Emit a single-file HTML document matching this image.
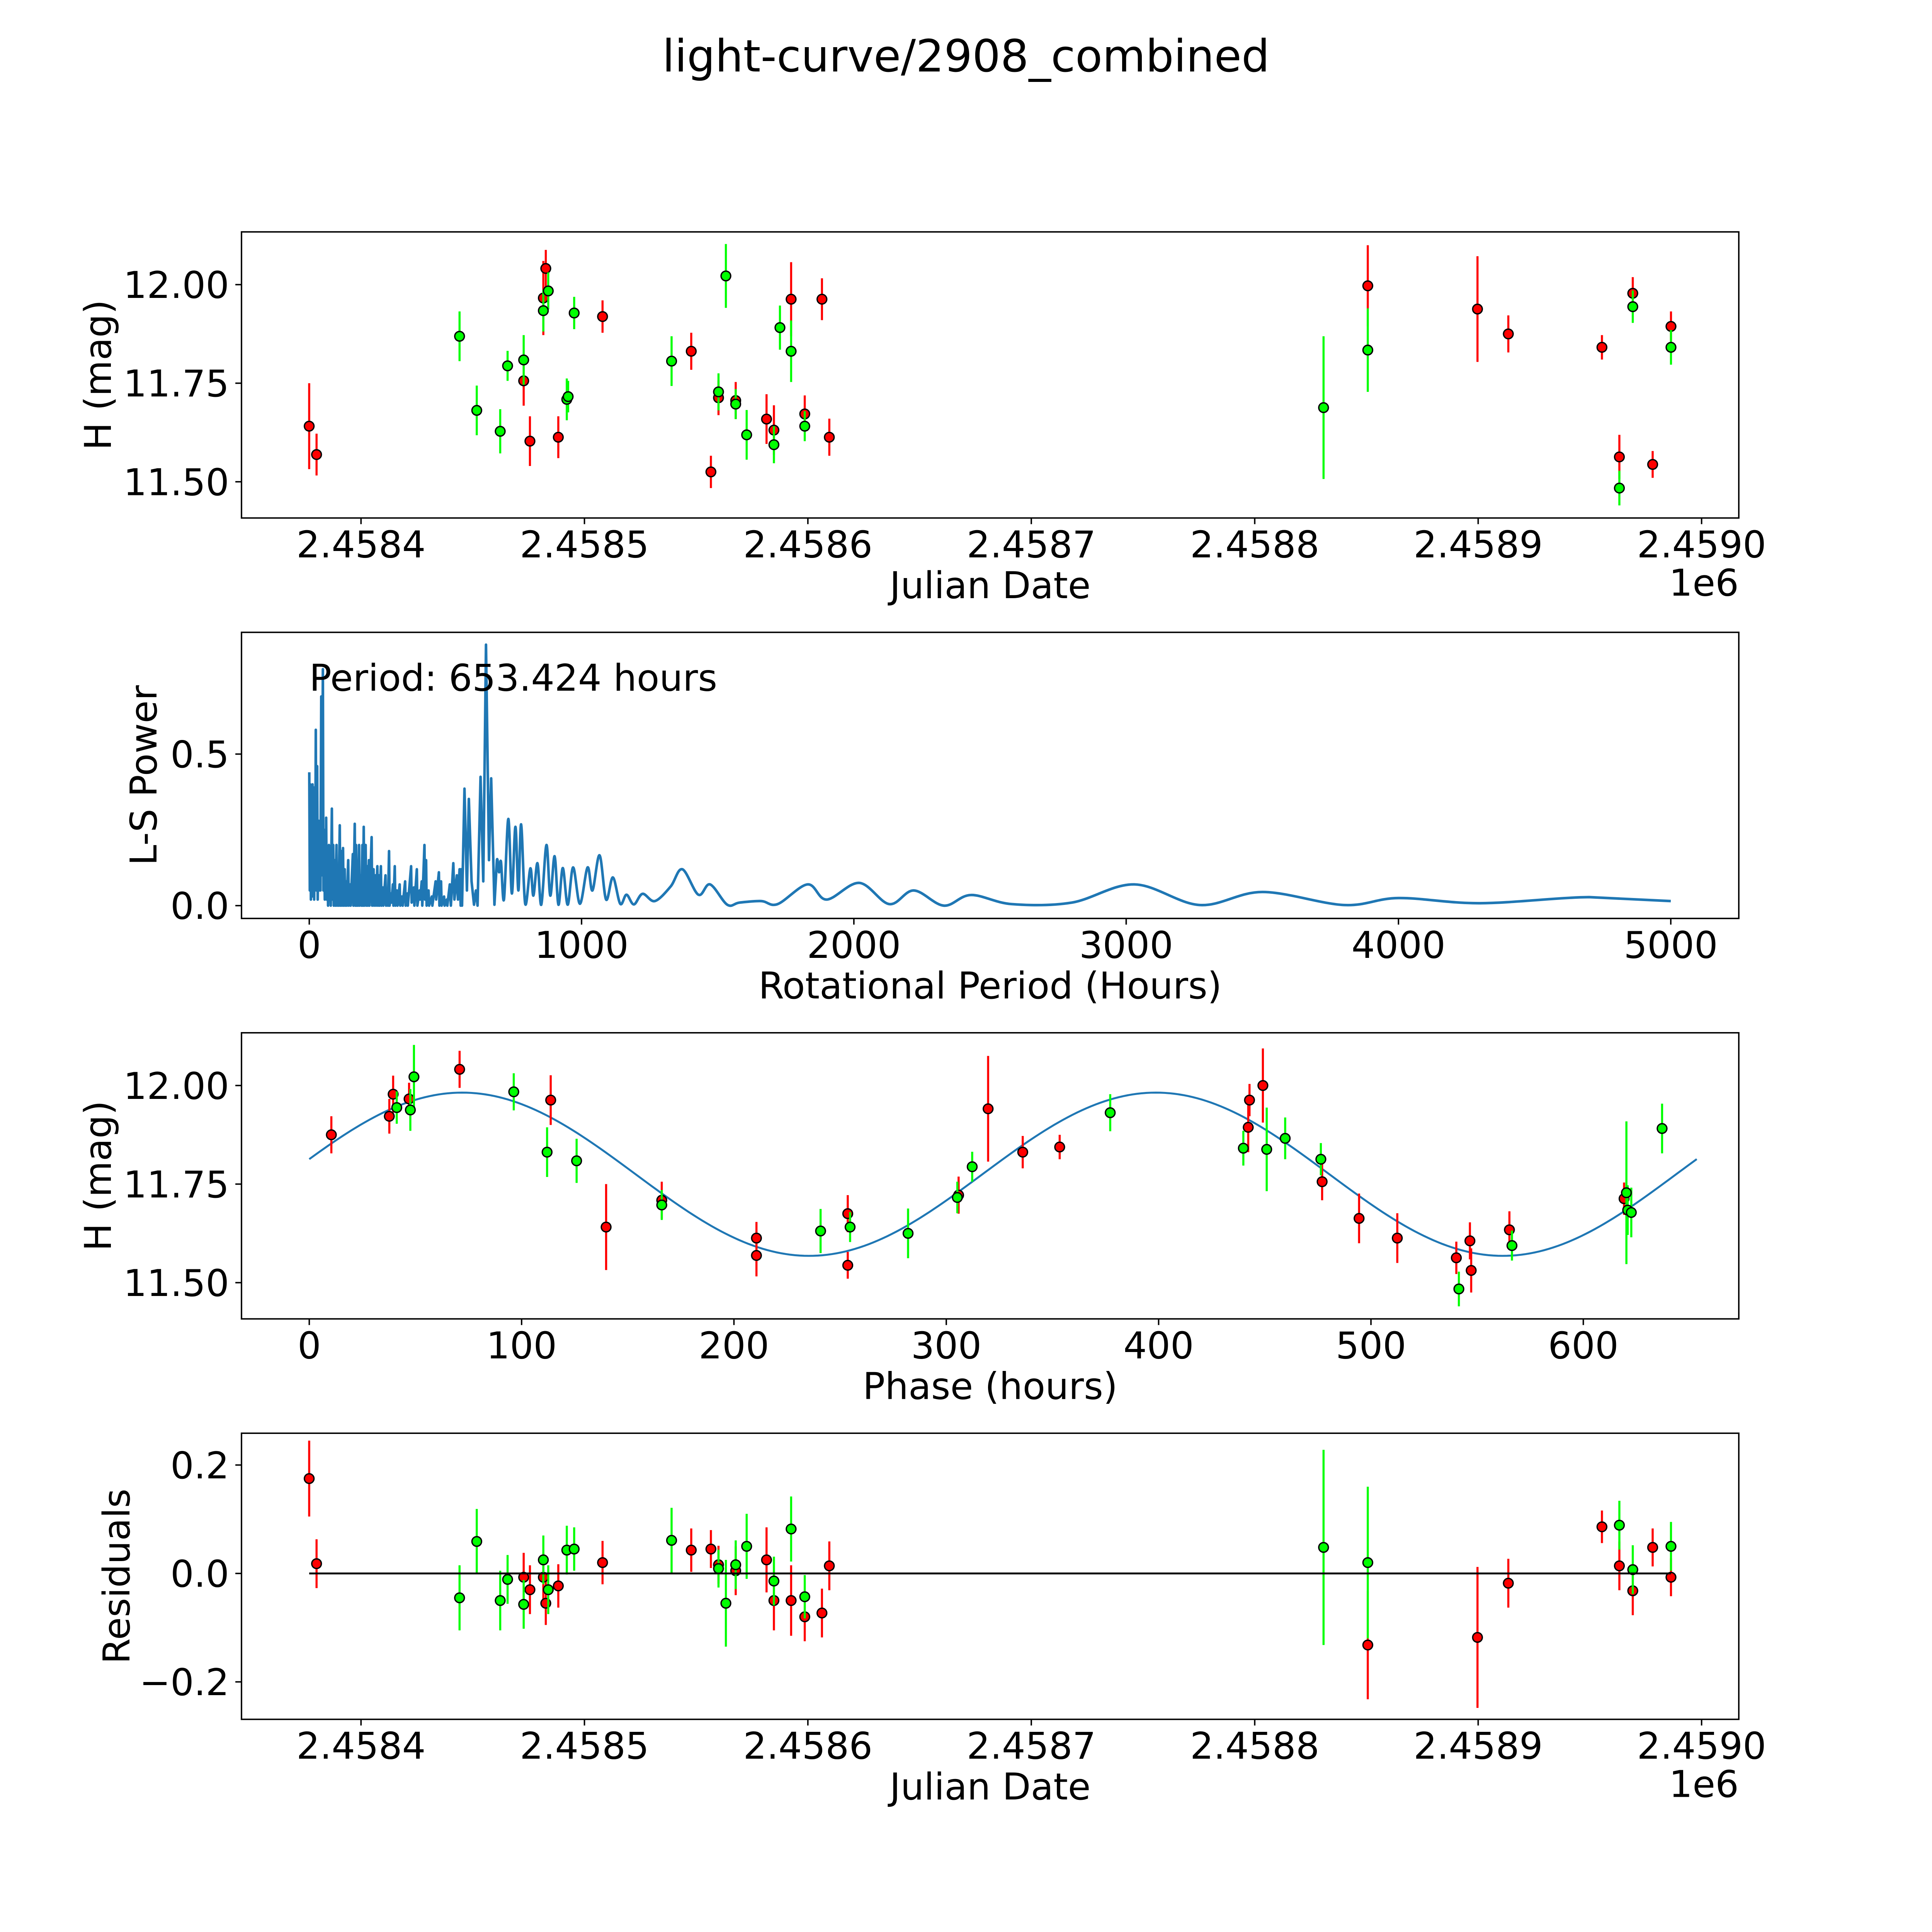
<!DOCTYPE html>
<html><head><meta charset="utf-8"><style>
html,body{margin:0;padding:0;background:#fff;overflow:hidden;width:100vw;height:100vh;}
svg{display:block;width:100vw;height:100vh;font-family:"DejaVu Sans","Liberation Sans",sans-serif;}
</style></head><body>
<svg id="fig" xmlns="http://www.w3.org/2000/svg" viewBox="0 0 1568 1568" preserveAspectRatio="none">
<rect x="0" y="0" width="1568" height="1568" fill="#fff"/>
<text x="784" y="58" font-size="36" text-anchor="middle">light-curve/2908_combined</text>
</svg>
<script>
// ---- Panel 1 data: Julian date offset (JD - 2458000), magnitude, error
const JD0 = 2458000;
const redJD = [376.8,380.1,475.6,472.8,481.6,482.7,488.3,508.1,547.8,556.6,560.0,567.7,581.5,584.8,592.5,598.6,606.3,609.6,850.6,899.7,913.5,955.4,963.2,969.2,978.1,986.3];
const redMag = [11.641,11.569,11.603,11.756,11.966,12.041,11.613,11.919,11.831,11.525,11.713,11.706,11.659,11.631,11.963,11.672,11.963,11.613,11.997,11.938,11.875,11.841,11.563,11.978,11.544,11.894];
const redErr = [.109,.053,.063,.063,.094,.047,.053,.041,.047,.041,.044,.047,.063,.063,.094,.047,.053,.047,.103,.134,.047,.031,.056,.041,.034,.038];
const greenJD = [444.1,451.8,462.3,465.6,472.8,481.6,483.8,492.1,492.7,495.4,539.0,560.0,563.3,567.7,572.6,584.8,587.5,592.5,598.6,830.8,850.6,963.2,969.2,986.3];
const greenMag = [11.869,11.681,11.628,11.794,11.809,11.934,11.984,11.709,11.716,11.928,11.806,11.728,12.022,11.697,11.619,11.594,11.891,11.831,11.641,11.688,11.834,11.484,11.944,11.841];
const greenErr = [.063,.063,.056,.038,.063,.053,.047,.053,.04,.041,.063,.047,.081,.038,.063,.047,.056,.078,.038,.181,.106,.044,.041,.044];
const jdTicks = [400,500,600,700,800,900,1000];
const jdTickLabels = ["2.4584","2.4585","2.4586","2.4587","2.4588","2.4589","2.4590"];
const magTicks = [11.5,11.75,12.0];
const magTickLabels = ["11.50","11.75","12.00"];

// ---- Panel 2 data: Lomb-Scargle periodogram
const lsPeriod = [0,2,4,6,8,10,12,14,16,18,20,22,24,26,29,31,34,36,39,41,44,46,50,52,55,57,59,61,62,64,67,69,72,74,77,79,83,85,88,90,94,96,100,102,106,108,112,114,118,120,124,126,130,132,136,138,143,145,150,152,160,162,167,169,172,174,177,179,183,185,190,192,195,197,200,202,207,209,213,215,219,221,229,231,236,238,243,245,250,252,256,258,263,265,270,272,280,282,287,289,293,295,300,302,307,309,314,316,322,324,332,334,340,343,352,354,360,362,374,376,384,386,395,397,405,407,413,415,423,425,429,431,438,440,450,452,464,466,476,478,484,486,495,497,505,507,516,520,529,533,542,546,552,556,557,561,570,579,586,596,605,612,618,629,639,649,660,668,680,689,697,704,715,731,744,757,768,778,793,812,823,838,852,871,885,901,915,931,949,969,994,1022,1040,1066,1090,1115,1142,1165,1192,1224,1269,1327,1370,1429,1472,1535,1580,1660,1720,1830,1900,2020,2130,2220,2330,2430,2580,2800,3030,3270,3500,3800,4000,4300,4700,5000];
const lsPower = [0.44,0.05,0.40,0.02,0.39,0.03,0.40,0.05,0.39,0.02,0.38,0.1,0.58,0.05,0.46,0.02,0.28,0.05,0.27,0.05,0.69,0.1,0.78,0.05,0.25,0.02,0.21,0.05,0.29,0.02,0.18,0.0,0.2,0.02,0.13,0.0,0.32,0.02,0.2,0.0,0.15,0.0,0.2,0.0,0.1,0.0,0.265,0.0,0.18,0.0,0.19,0.0,0.12,0.0,0.08,0.0,0.15,0.0,0.07,0.0,0.17,0.0,0.27,0.0,0.2,0.0,0.12,0.0,0.2,0.0,0.1,0.0,0.2,0.0,0.26,0.0,0.2,0.0,0.13,0.0,0.15,0.0,0.226,0.0,0.12,0.0,0.1,0.0,0.13,0.0,0.1,0.0,0.13,0.0,0.06,0.0,0.1,0.0,0.04,0.0,0.18,0.0,0.04,0.01,0.07,0.0,0.13,0.0,0.05,0.0,0.07,0.0,0.03,0.0,0.08,0.0,0.04,0.0,0.13,0.01,0.06,0.0,0.12,0.0,0.05,0.02,0.08,0.0,0.2,0.02,0.15,0.0,0.05,0.0,0.03,0.0,0.08,0.02,0.11,0.0,0.08,0.0,0.03,0.0,0.02,0.0,0.07,0.0,0.14,0.02,0.1,0.02,0.12,0.0,0.12,0.0,0.386,0.05,0.352,0.08,0.003,0.05,0.0,0.425,0.08,0.861,0.15,0.42,0.003,0.15,0.11,0.145,0.02,0.286,0.04,0.26,0.05,0.268,0.006,0.123,0.033,0.14,0.003,0.2,0.033,0.163,0.003,0.124,0.003,0.126,0.006,0.126,0.05,0.166,0.02,0.093,0.006,0.036,0.004,0.039,0.015,0.063,0.12,0.036,0.07,0.003,0.01,0.015,0.005,0.07,0.02,0.075,0.005,0.05,0.0,0.035,0.005,0.01,0.07,0.002,0.045,0.002,0.025,0.008,0.028,0.015];
const lsTicks = [0,1000,2000,3000,4000,5000];
const lsTickLabels = ["0","1000","2000","3000","4000","5000"];
const powTicks = [0,0.5];
const powTickLabels = ["0.0","0.5"];
const bestPeriod = 653.424;

// ---- Panel 3 data: phase-folded
const phRed = [10.4,37.7,39.5,47.0,70.8,113.7,139.8,166.0,210.6,210.6,253.6,253.6,305.8,319.7,336.0,353.4,442.2,442.8,449.1,477.0,494.4,512.4,540.2,546.6,547.2,565.2,619.2];
const phRedMag = [11.875,11.922,11.978,11.966,12.041,11.963,11.641,11.709,11.613,11.569,11.675,11.544,11.722,11.941,11.831,11.844,11.894,11.963,12.0,11.756,11.663,11.613,11.563,11.606,11.531,11.634,11.713];
const phRedErr = [.047,.044,.047,.041,.047,.063,.109,.047,.041,.053,.047,.034,.047,.134,.041,.031,.063,.041,.094,.047,.063,.063,.041,.047,.056,.047,.041];
const phGreen = [41.2,47.6,49.3,96.3,112.0,125.9,166.0,240.8,254.7,282.0,305.2,312.2,377.2,439.9,450.9,459.6,476.4,541.4,566.4,620.3,620.9,622.6,637.1];
const phGreenMag = [11.944,11.938,12.022,11.984,11.831,11.809,11.697,11.631,11.641,11.625,11.716,11.794,11.931,11.841,11.838,11.866,11.813,11.484,11.594,11.728,11.684,11.678,11.891];
const phGreenErr = [.041,.053,.081,.047,.063,.056,.038,.056,.038,.063,.04,.038,.047,.044,.106,.053,.041,.044,.038,.181,.063,.063,.063];
const phTicks = [0,100,200,300,400,500,600];
const phTickLabels = ["0","100","200","300","400","500","600"];
const modelMean = 11.775, modelAmp = 0.207, modelPeakPhase = 72;

// ---- Panel 4 data: residuals
const resRedJD = [376.8,380.1,472.8,475.6,481.6,482.7,488.3,508.1,547.8,556.6,560.0,567.7,581.5,584.8,592.5,598.6,606.3,609.6,850.6,899.7,913.5,955.4,963.2,969.2,978.1,986.3];
const resRed = [0.175,0.018,-0.007,-0.03,-0.007,-0.055,-0.023,0.02,0.043,0.045,0.016,0.005,0.025,-0.05,-0.05,-0.08,-0.073,0.014,-0.132,-0.118,-0.018,0.086,0.014,-0.032,0.048,-0.007];
const resRedErr = [.07,.045,.045,.045,.045,.04,.04,.04,.04,.035,.035,.045,.06,.055,.065,.045,.045,.045,.1,.13,.045,.03,.045,.045,.035,.035];
const resGreenJD = [444.1,451.8,462.3,465.6,472.8,481.6,483.8,492.1,495.4,539.0,560.0,563.3,567.7,572.6,584.8,592.5,598.6,830.8,850.6,963.2,969.2,986.3];
const resGreen = [-0.045,0.059,-0.05,-0.011,-0.057,0.025,-0.03,0.043,0.045,0.061,0.009,-0.055,0.016,0.05,-0.014,0.082,-0.043,0.048,0.02,0.089,0.007,0.05];
const resGreenErr = [.06,.06,.055,.045,.045,.045,.045,.045,.04,.06,.035,.08,.045,.06,.045,.06,.04,.18,.14,.045,.045,.045];
const resTicks = [-0.2,0,0.2];
const resTickLabels = ["\u22120.2","0.0","0.2"];

const NS = "http://www.w3.org/2000/svg";
const svg = document.getElementById("fig");
const L = 196, R = 1411.2, H = 232.2;
const tops = [188.2, 513.2, 838.2, 1163.2];
const FS = 30;

function mk(tag, attrs, parent) {
  const e = document.createElementNS(NS, tag);
  for (const k in attrs) e.setAttribute(k, attrs[k]);
  (parent || svg).appendChild(e);
  return e;
}
function lin(d0, d1, r0, r1) { return v => r0 + (v - d0) * (r1 - r0) / (d1 - d0); }

function axesFrame(i, name) {
  const g = mk("g", {});
  
  
  return g;
}
function drawBox(g, top) {
  const r = mk("rect", {x: L, y: top, width: R - L, height: H, fill: "none", stroke: "#000", "stroke-width": 1.16}, g);
  
  
}
function xTicks(g, top, ticks, labels, sx) {
  const b = top + H;
  ticks.forEach((t, k) => {
    const x = sx(t);
    const ln = mk("line", {x1: x, x2: x, y1: b, y2: b + 5, stroke: "#000", "stroke-width": 1.16}, g);
    
    
    const tx = mk("text", {x: x, y: b + 32, "font-size": FS, "text-anchor": "middle"}, g);
    
    
    tx.textContent = labels[k];
  });
}
function yTicks(g, ticks, labels, sy) {
  ticks.forEach((t, k) => {
    const y = sy(t);
    const ln = mk("line", {x1: L - 5, x2: L, y1: y, y2: y, stroke: "#000", "stroke-width": 1.16}, g);
    
    
    const tx = mk("text", {x: L - 10, y: y + 10.8, "font-size": FS, "text-anchor": "end"}, g);
    
    
    tx.textContent = labels[k];
  });
}
function labelX(g, top, txt, name) {
  const t = mk("text", {x: 803.6, y: top + H + 65, "font-size": FS, "text-anchor": "middle"}, g);
  
  
  t.textContent = txt;
}
function labelY(g, top, txt, x, name) {
  const cy = top + H / 2;
  const t = mk("text", {x: x, y: cy, "font-size": FS, "text-anchor": "middle", transform: "rotate(-90 " + x + " " + cy + ")"}, g);
  
  
  t.textContent = txt;
}
function offsetText(g, top) {
  const t = mk("text", {x: R, y: top + H + 63, "font-size": FS, "text-anchor": "end"}, g);
  
  
  t.textContent = "1e6";
}
function errPoints(g, xs, ys, es, sx, sy, color, name) {
  const eg = mk("g", {}, g);
  
  
  xs.forEach((v, k) => {
    const x = sx(v);
    const ln = mk("line", {x1: x, x2: x, y1: sy(ys[k] - es[k]), y2: sy(ys[k] + es[k]), stroke: color, "stroke-width": 1.7}, eg);
    
    
  });
  const mg = mk("g", {}, g);
  
  
  xs.forEach((v, k) => {
    const c = mk("circle", {cx: sx(v), cy: sy(ys[k]), r: 3.9, fill: color, stroke: "#000", "stroke-width": 1.1}, mg);
    
    
  });
}

// ===== Panel 1 =====
(function () {
  const top = tops[0];
  const g = axesFrame(0, 'light-curve-panel');
  const sx = lin(400, 1000, 293, 1381);
  const sy = lin(12.0, 11.5, 231 + top - 188.2, 391 + top - 188.2);
  errPoints(g, redJD, redMag, redErr, sx, sy, "#ff0000", 'red-band');
  errPoints(g, greenJD, greenMag, greenErr, sx, sy, "#00ff00", 'green-band');
  drawBox(g, top);
  xTicks(g, top, jdTicks, jdTickLabels, sx);
  yTicks(g, magTicks, magTickLabels, sy);
  labelX(g, top, "Julian Date", 'x-axis-title');
  offsetText(g, top);
  labelY(g, top, "H (mag)", 90, 'y-axis-title');
})();

// ===== Panel 2 =====
(function () {
  const top = tops[1];
  const g = axesFrame(1, 'periodogram-panel');
  const sx = lin(0, 5000, 251, 1356);
  const sy = lin(0, 0.5, 735, 612);
  let d = "";
  const pts = lsPeriod.map((p, k) => [sx(p), sy(lsPower[k])]);
  for (let k = 0; k < pts.length; k++) {
    const [x, y] = pts[k];
    if (k === 0) { d += "M" + x.toFixed(2) + " " + y.toFixed(2); continue; }
    if (lsPeriod[k] > 690 && k >= 2 && k < pts.length - 1) {
      const p0 = pts[k - 2], p1 = pts[k - 1], p2 = pts[k], p3 = pts[k + 1];
      const c1x = p1[0] + (p2[0] - p0[0]) / 6, c1y = p1[1] + (p2[1] - p0[1]) / 6;
      const c2x = p2[0] - (p3[0] - p1[0]) / 6, c2y = p2[1] - (p3[1] - p1[1]) / 6;
      d += " C" + c1x.toFixed(2) + " " + c1y.toFixed(2) + " " + c2x.toFixed(2) + " " + c2y.toFixed(2) + " " + x.toFixed(2) + " " + y.toFixed(2);
    } else {
      d += " L" + x.toFixed(2) + " " + y.toFixed(2);
    }
  }
  const path = mk("path", {d: d, fill: "none", stroke: "#1f77b4", "stroke-width": 2.1, "stroke-linejoin": "round"}, g);
  
  
  const t = mk("text", {x: sx(0), y: 560.5, "font-size": FS}, g);
  
  
  t.textContent = "Period: " + bestPeriod.toFixed(3) + " hours";
  drawBox(g, top);
  xTicks(g, top, lsTicks, lsTickLabels, sx);
  yTicks(g, powTicks, powTickLabels, sy);
  labelX(g, top, "Rotational Period (Hours)", 'x-axis-title');
  labelY(g, top, "L-S Power", 127, 'y-axis-title');
})();

// ===== Panel 3 =====
(function () {
  const top = tops[2];
  const g = axesFrame(2, 'phase-fold-panel');
  const sx = lin(0, 600, 251, 1285);
  const sy = lin(12.0, 11.5, 881, 1041);
  let d = "";
  for (let i = 0; i <= 300; i++) {
    const ph = bestPeriod * i / 300;
    const m = modelMean + modelAmp * Math.cos(2 * Math.PI * 2 * (ph - modelPeakPhase) / bestPeriod);
    d += (i ? " L" : "M") + sx(ph).toFixed(2) + " " + sy(m).toFixed(2);
  }
  const path = mk("path", {d: d, fill: "none", stroke: "#1f77b4", "stroke-width": 1.6}, g);
  
  
  errPoints(g, phRed, phRedMag, phRedErr, sx, sy, "#ff0000", 'red-band');
  errPoints(g, phGreen, phGreenMag, phGreenErr, sx, sy, "#00ff00", 'green-band');
  drawBox(g, top);
  xTicks(g, top, phTicks, phTickLabels, sx);
  yTicks(g, magTicks, magTickLabels, sy);
  labelX(g, top, "Phase (hours)", 'x-axis-title');
  labelY(g, top, "H (mag)", 90, 'y-axis-title');
})();

// ===== Panel 4 =====
(function () {
  const top = tops[3];
  const g = axesFrame(3, 'residuals-panel');
  const sx = lin(400, 1000, 293, 1381);
  const sy = lin(0, 0.2, 1277, 1189);
  errPoints(g, resRedJD, resRed, resRedErr, sx, sy, "#ff0000", 'red-band');
  errPoints(g, resGreenJD, resGreen, resGreenErr, sx, sy, "#00ff00", 'green-band');
  const allJD = resRedJD.concat(resGreenJD);
  const zl = mk("line", {x1: sx(Math.min(...allJD)), x2: sx(Math.max(...allJD)), y1: sy(0), y2: sy(0), stroke: "#000", "stroke-width": 1.5}, g);
  
  
  drawBox(g, top);
  xTicks(g, top, jdTicks, jdTickLabels, sx);
  yTicks(g, resTicks, resTickLabels, sy);
  labelX(g, top, "Julian Date", 'x-axis-title');
  offsetText(g, top);
  labelY(g, top, "Residuals", 105, 'y-axis-title');
})();
</script>
</body></html>
